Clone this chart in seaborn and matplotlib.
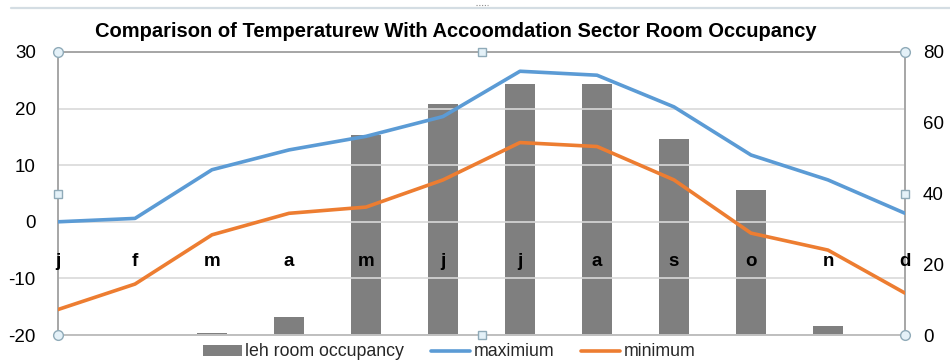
import matplotlib
matplotlib.use("Agg")
import matplotlib.pyplot as plt
from matplotlib.lines import Line2D
import numpy as np
import pandas as pd
import seaborn as sns

# ---- data -------------------------------------------------------------
months = ['j', 'f', 'm', 'a', 'm', 'j', 'j', 'a', 's', 'o', 'n', 'd']
occupancy = [0, 0, 0.5, 5.2, 56.5, 65.2, 70.9, 70.9, 55.3, 41.0, 2.5, 0]
t_max = [0.0, 0.6, 9.2, 12.7, 15.1, 18.6, 26.6, 25.9, 20.3, 11.8, 7.4, 1.5]
t_min = [-15.5, -11.0, -2.3, 1.5, 2.6, 7.4, 14.0, 13.3, 7.4, -2.0, -5.0, -12.6]
temp_ticks = [-20, -10, 0, 10, 20, 30]
occ_ticks = [0, 20, 40, 60, 80]
title = "Comparison of Temperaturew With Accoomdation Sector Room Occupancy"
series_names = ["leh room occupancy", "maximium", "minimum"]

pos = np.arange(len(months))
df = pd.DataFrame({"pos": pos, "month": months, "occupancy": occupancy,
                   "t_max": t_max, "t_min": t_min})

sns.set_theme(style="white")
plt.rcParams["font.family"] = ["Liberation Sans", "DejaVu Sans"]
plt.rcParams["axes.unicode_minus"] = False

BAR = "#7f7f7f"
BLUE = "#5b9bd5"
ORANGE = "#ed7d31"
FRAME = "#a6a6a6"
GRID = "#d9d9d9"

fig = plt.figure(figsize=(9.5, 3.64), dpi=100)
ax = fig.add_axes([58 / 950, 29 / 364, 847 / 950, 283 / 364])

# occupancy bars (right-hand scale), drawn on the lower axes
sns.barplot(data=df, x="pos", y="occupancy", native_scale=True, width=0.4,
            color=BAR, saturation=1, ax=ax, label=series_names[0],
            edgecolor="none")
if ax.get_legend() is not None:
    ax.get_legend().remove()

# temperature lines (left-hand scale), on a twin axes above the bars
ax2 = ax.twinx()
ax2.patch.set_visible(False)
sns.lineplot(data=df, x="pos", y="t_max", color=BLUE, linewidth=2.6,
             ax=ax2, label=series_names[1], zorder=3)
sns.lineplot(data=df, x="pos", y="t_min", color=ORANGE, linewidth=2.6,
             ax=ax2, label=series_names[2], zorder=3)
if ax2.get_legend() is not None:
    ax2.get_legend().remove()

# right-hand occupancy scale
ax.set_ylim(0, 80)
ax.set_yticks(occ_ticks)
ax.yaxis.tick_right()
ax.set_xlim(0, len(months) - 1)
ax.set_xticks([])
ax.set_xlabel("")
ax.set_ylabel("")
ax.tick_params(axis="y", length=0, pad=13, labelsize=13.5, labelcolor="black")
for s in ax.spines.values():
    s.set_visible(False)

# left-hand temperature scale
ax2.set_ylim(-20, 30)
ax2.set_yticks(temp_ticks)
ax2.yaxis.tick_left()
ax2.set_xlim(0, len(months) - 1)
ax2.set_xticks([])
ax2.set_xlabel("")
ax2.set_ylabel("")
ax2.tick_params(axis="y", length=0, pad=16, labelsize=13.5, labelcolor="black")
ax2.grid(axis="y", color=GRID, linewidth=1.2, zorder=1)
ax2.set_axisbelow(True)
for name, s in ax2.spines.items():
    s.set_visible(True)
    s.set_color(FRAME)
    s.set_linewidth(1.4)
ax2.spines["bottom"].set_color("#bfbfbf")

# month letters placed inside the plot area
for p, m in zip(pos, months):
    ax2.text(p, -7.8, m, ha="center", va="baseline", fontsize=13.5,
             fontweight="bold", color="black", zorder=5)

# selection handles on the plot-area frame
for (hx, hy, mk, sz) in [(0, 0, "o", 7), (1, 0, "o", 7), (0, 1, "o", 7), (1, 1, "o", 7),
                         (0.5, 0, "s", 6), (0.5, 1, "s", 6), (0, 0.5, "s", 6), (1, 0.5, "s", 6)]:
    ax2.plot(hx, hy, marker=mk, markersize=sz, markerfacecolor="#e4f1f8",
             markeredgecolor="#8faab8", markeredgewidth=1.0,
             transform=ax2.transAxes, clip_on=False, zorder=6)

# chart title
fig.text(456 / 950, 1 - 37 / 364, title, ha="center", va="baseline",
         fontsize=14.5, fontweight="bold", color="black")

# chart-area top border
fig.add_artist(Line2D([11 / 950, 1.0], [1 - 8 / 364, 1 - 8 / 364],
                      color="#d4dde3", linewidth=1.6))
fig.add_artist(Line2D([476 / 950, 488 / 950], [1 - 5 / 364, 1 - 5 / 364],
                      color="#8a8a8a", linewidth=0.8, linestyle=(0, (1, 1.5))))

# legend along the bottom
h1, l1 = ax.get_legend_handles_labels()
h2, l2 = ax2.get_legend_handles_labels()
fig.legend(h1 + h2, l1 + l2, loc="center", ncol=3,
           bbox_to_anchor=(449 / 950, 1 - 352 / 364), frameon=False,
           fontsize=12.8, handlelength=2.2, handleheight=0.55,
           handletextpad=0.2, columnspacing=1.5, borderpad=0.1)

fig.savefig("out.png", dpi=100, facecolor="white")
